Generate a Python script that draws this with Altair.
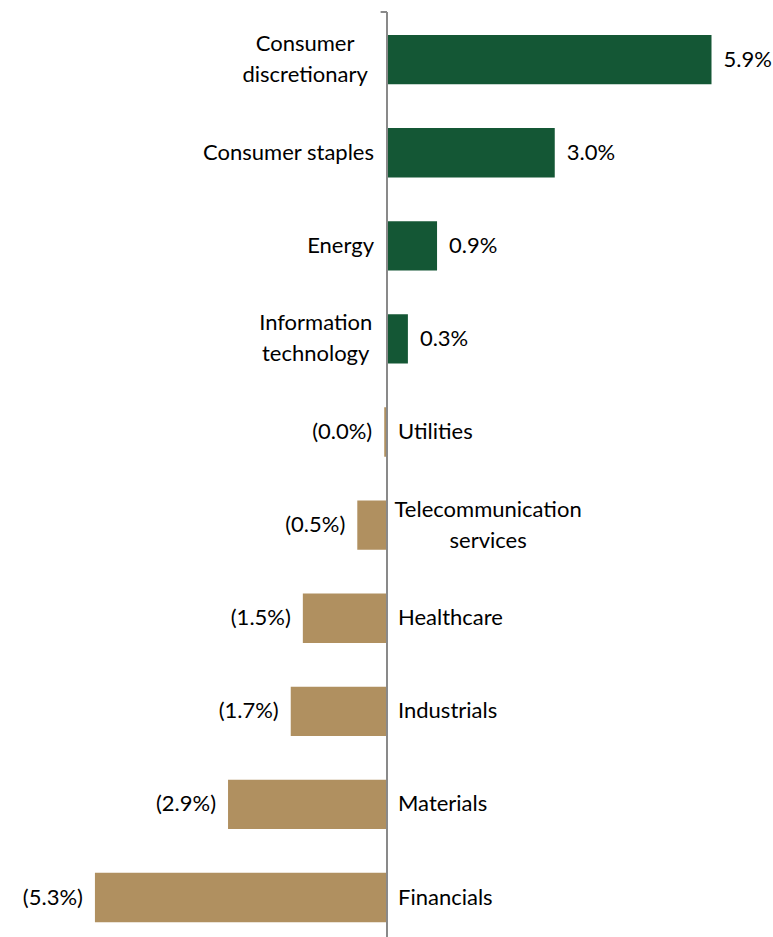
import altair as alt
import pandas as pd

categories = ["Consumer discretionary", "Consumer staples", "Energy", "Information technology",
              "Utilities", "Telecommunication services", "Healthcare", "Industrials",
              "Materials", "Financials"]
label_lines = [["Consumer", "discretionary"], ["Consumer staples"], ["Energy"],
               ["Information", "technology"], ["Utilities"], ["Telecommunication", "services"],
               ["Healthcare"], ["Industrials"], ["Materials"], ["Financials"]]
values = [5.9, 3.05, 0.91, 0.38, -0.05, -0.54, -1.53, -1.75, -2.89, -5.31]
value_labels = ["5.9%", "3.0%", "0.9%", "0.3%", "(0.0%)", "(0.5%)", "(1.5%)", "(1.7%)", "(2.9%)", "(5.3%)"]

GREEN = "#145735"
TAN = "#B09060"
FONT = "Lato"
FS = 22
LH = 31
W, H = 773, 925
XDOM = [-7.036, 7.018]
PX_PER_UNIT = W / (XDOM[1] - XDOM[0])
CW = 10.6  # approx avg char width in px for label font

rows = []
for c, lines, v, vl in zip(categories, label_lines, values, value_labels):
    maxlen = max(len(s) for s in lines)
    if v > 0:
        off = -(13 + maxlen * CW / 2)
    else:
        off = 11 + maxlen * CW / 2
    rows.append({"category": c, "lines": lines, "value": v, "vlabel": vl,
                 "nlines": len(lines), "lx": off / PX_PER_UNIT, "zero": 0.0})
df = pd.DataFrame(rows)

xscale = alt.Scale(domain=XDOM, nice=False, zero=False)
yenc = alt.Y("category:N", sort=categories, axis=None,
             scale=alt.Scale(paddingInner=0.47, paddingOuter=0.203, align=0.608))

base = alt.Chart(df)

bars = base.mark_bar().encode(
    x=alt.X("value:Q", scale=xscale, axis=None),
    x2=alt.X2("zero:Q"),
    y=yenc,
    color=alt.condition(alt.datum.value > 0, alt.value(GREEN), alt.value(TAN)),
)

axis_line = alt.Chart(df).mark_rule(color="#8a8a8a", strokeWidth=1.5).encode(
    x=alt.datum(0, scale=xscale),
    y=alt.value(0), y2=alt.value(H + 12),
)
top_tick = alt.Chart(df).mark_rule(color="#8a8a8a", strokeWidth=1.5).encode(
    x=alt.datum(0), x2=alt.datum(-0.11), y=alt.value(0),
)

txt = dict(font=FONT, fontSize=FS, color="#000000", baseline="middle", lineHeight=LH)

val_pos = base.transform_filter("datum.value > 0").mark_text(align="left", dx=12, **txt).encode(
    x="value:Q", y=yenc, text="vlabel:N")
val_neg = base.transform_filter("datum.value < 0").mark_text(align="right", dx=-12, **txt).encode(
    x="value:Q", y=yenc, text="vlabel:N")

cat_pos1 = base.transform_filter("datum.value > 0 && datum.nlines == 1").mark_text(
    align="right", dx=-13, **txt).encode(x="zero:Q", y=yenc, text="category:N")
cat_neg1 = base.transform_filter("datum.value < 0 && datum.nlines == 1").mark_text(
    align="left", dx=11, **txt).encode(x="zero:Q", y=yenc, text="category:N")
cat_multi = base.transform_filter("datum.nlines > 1").mark_text(
    align="center", dy=-LH / 2, **txt).encode(x="lx:Q", y=yenc, text="lines")

chart = alt.layer(bars, axis_line, top_tick, val_pos, val_neg, cat_pos1, cat_neg1, cat_multi).properties(
    width=W, height=H,
    background="white",
    padding={"left": 0, "top": 12, "right": 0, "bottom": 0},
    autosize=alt.AutoSizeParams(type="none"),
).configure_view(stroke=None)

chart.save("out.html", embed_options={"renderer": "svg", "actions": False})
